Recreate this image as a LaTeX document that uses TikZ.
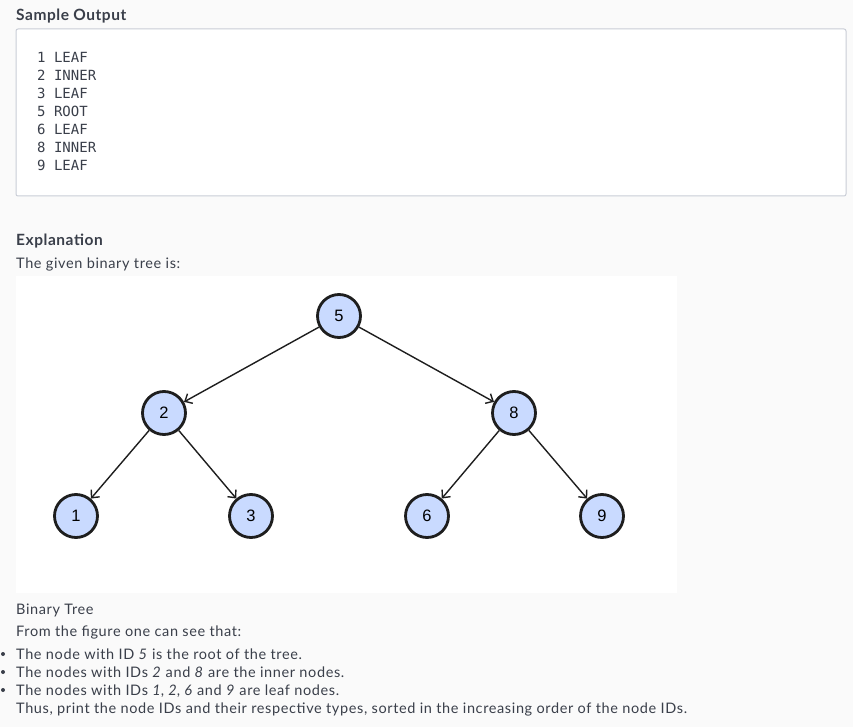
\documentclass[tikz,border=0pt]{standalone}
\usepackage{fontspec}
\setmainfont{Lato}[LetterSpace=4.3]
\newfontfamily\headfont{Lato}[LetterSpace=3.5]
\newfontfamily\monofont{DejaVu Sans Mono}
\newfontfamily\nodefont{Liberation Sans}
\usetikzlibrary{arrows.meta}
\definecolor{pagebg}{HTML}{FAFAFA}
\definecolor{txt}{HTML}{3A3F4A}
\definecolor{boxline}{HTML}{C9CDD6}
\definecolor{nodefill}{HTML}{C9DAFF}
\definecolor{nodeline}{HTML}{1E1E1E}
\tikzset{
  treenode/.style={circle, draw=nodeline, line width=2.8pt, fill=nodefill, minimum size=43pt, inner sep=0pt, font=\nodefont\fontsize{16.5pt}{18pt}\selectfont},
  edge/.style={line width=1.4pt, draw=nodeline, -{Straight Barb[length=6pt,width=11pt,line width=1.4pt]}},
  head/.style={anchor=base west, inner sep=0pt, text=txt, font=\headfont\bfseries\fontsize{15.5pt}{18pt}\selectfont},
  body/.style={anchor=base west, inner sep=0pt, text=txt, font=\fontsize{14.5pt}{17pt}\selectfont},
  mono/.style={anchor=base west, inner sep=0pt, text=txt, font=\monofont\fontsize{14pt}{16pt}\selectfont},
  bullet/.style={circle, fill=txt, inner sep=0pt, minimum size=4pt}
}
\begin{document}
\begin{tikzpicture}[x=1pt,y=-1pt]
\useasboundingbox (0,0) rectangle (853,727);
\fill[pagebg] (0,0) rectangle (853,727);
% Sample output
\node[head] (h1) at (16,21) {Sample Output};
\draw[boxline, fill=white, line width=1pt, rounded corners=2pt] (16,29) rectangle (846,196);
\node[mono] (o1) at (37,63) {1 LEAF};
\node[mono] (o2) at (37,81) {2 INNER};
\node[mono] (o3) at (37,99) {3 LEAF};
\node[mono] (o4) at (37,117) {5 ROOT};
\node[mono] (o5) at (37,135) {6 LEAF};
\node[mono] (o6) at (37,153) {8 INNER};
\node[mono] (o7) at (37,171) {9 LEAF};
% Explanation
\node[head] (h2) at (16,245) {Explanation};
\node[body] (t1) at (16,268) {The given binary tree is:};
\fill[white] (16,276) rectangle (677,593);
% tree
\node[treenode] (n5) at (339,316) {5};
\node[treenode] (n2) at (164,413) {2};
\node[treenode] (n8) at (514,413) {8};
\node[treenode] (n1) at (76,516) {1};
\node[treenode] (n3) at (251,516) {3};
\node[treenode] (n6) at (427,516) {6};
\node[treenode] (n9) at (602,516) {9};
\draw[edge] (n5) -- (n2);
\draw[edge] (n5) -- (n8);
\draw[edge] (n2) -- (n1);
\draw[edge] (n2) -- (n3);
\draw[edge] (n8) -- (n6);
\draw[edge] (n8) -- (n9);
% caption and text
\node[body] (c1) at (16,614) {Binary Tree};
\node[body] (c2) at (16,636) {From the figure one can see that:};
\node[bullet] (b1) at (3,654) {};
\node[body] (l1) at (16,659) {The node with ID \textit{5} is the root of the tree.};
\node[bullet] (b2) at (3,672) {};
\node[body] (l2) at (16,677) {The nodes with IDs \textit{2} and \textit{8} are the inner nodes.};
\node[bullet] (b3) at (3,690) {};
\node[body] (l3) at (16,695) {The nodes with IDs \textit{1}, \textit{2}, \textit{6} and \textit{9} are leaf nodes.};
\node[body] (c3) at (16,713) {Thus, print the node IDs and their respective types, sorted in the increasing order of the node IDs.};
\end{tikzpicture}
\end{document}
